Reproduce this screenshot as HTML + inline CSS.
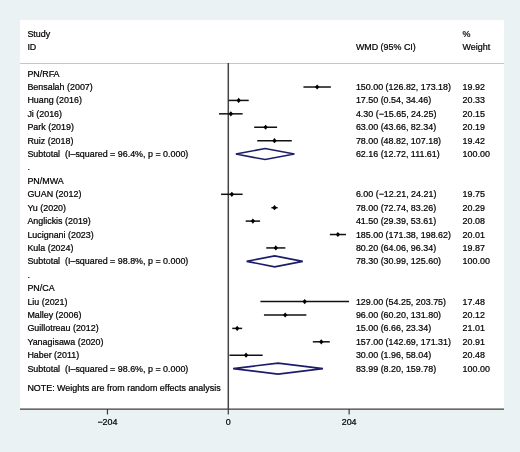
<!DOCTYPE html>
<html><head><meta charset="utf-8"><style>
html,body{margin:0;padding:0;background:#eaf2f3;}
svg{display:block;will-change:transform;}
text{white-space:pre;stroke:#000;stroke-width:0.22px;font-family:"Liberation Sans",sans-serif;font-size:8.92px;fill:#000;}
</style></head><body>
<svg width="520" height="452" viewBox="0 0 520 452">
<rect x="0" y="0" width="520" height="452" fill="#eaf2f3"/>
<rect x="20" y="20" width="484" height="389" fill="#ffffff"/>
<line x1="20" y1="63.5" x2="504" y2="63.5" stroke="#c6c6c6" stroke-width="1"/>
<line x1="228.3" y1="63" x2="228.3" y2="409" stroke="#444" stroke-width="1.5"/>
<line x1="20" y1="409.1" x2="504" y2="409.1" stroke="#3c3c3c" stroke-width="1.3"/>
<line x1="107.45" y1="409" x2="107.45" y2="414.5" stroke="#3c3c3c" stroke-width="1.2"/>
<text x="107.45" y="424.6" text-anchor="middle">−204</text>
<line x1="228.30" y1="409" x2="228.30" y2="414.5" stroke="#3c3c3c" stroke-width="1.2"/>
<text x="228.30" y="424.6" text-anchor="middle">0</text>
<line x1="349.15" y1="409" x2="349.15" y2="414.5" stroke="#3c3c3c" stroke-width="1.2"/>
<text x="349.15" y="424.6" text-anchor="middle">204</text>
<text x="27.4" y="36.7">Study</text>
<text x="27.4" y="49.9">ID</text>
<text x="355.9" y="49.9">WMD (95% CI)</text>
<text x="462.6" y="36.7">%</text>
<text x="462.6" y="49.9">Weight</text>
<text x="27.4" y="76.60">PN/RFA</text>
<text x="27.4" y="90.01">Bensalah (2007)</text>
<line x1="303.43" y1="87.01" x2="330.89" y2="87.01" stroke="#111" stroke-width="1.5"/>
<polygon points="314.96,87.01 317.16,84.41 319.36,87.01 317.16,89.61" fill="#000"/>
<text x="355.9" y="90.01">150.00 (126.82, 173.18)</text>
<text x="462.6" y="90.01">19.92</text>
<text x="27.4" y="103.42">Huang (2016)</text>
<line x1="228.62" y1="100.42" x2="248.71" y2="100.42" stroke="#111" stroke-width="1.5"/>
<polygon points="236.47,100.42 238.67,97.82 240.87,100.42 238.67,103.02" fill="#000"/>
<text x="355.9" y="103.42">17.50 (0.54, 34.46)</text>
<text x="462.6" y="103.42">20.33</text>
<text x="27.4" y="116.83">Ji (2016)</text>
<line x1="219.03" y1="113.83" x2="242.67" y2="113.83" stroke="#111" stroke-width="1.5"/>
<polygon points="228.65,113.83 230.85,111.23 233.05,113.83 230.85,116.43" fill="#000"/>
<text x="355.9" y="116.83">4.30 (−15.65, 24.25)</text>
<text x="462.6" y="116.83">20.15</text>
<text x="27.4" y="130.24">Park (2019)</text>
<line x1="254.16" y1="127.24" x2="277.08" y2="127.24" stroke="#111" stroke-width="1.5"/>
<polygon points="263.42,127.24 265.62,124.64 267.82,127.24 265.62,129.84" fill="#000"/>
<text x="355.9" y="130.24">63.00 (43.66, 82.34)</text>
<text x="462.6" y="130.24">20.19</text>
<text x="27.4" y="143.65">Ruiz (2018)</text>
<line x1="257.22" y1="140.65" x2="291.79" y2="140.65" stroke="#111" stroke-width="1.5"/>
<polygon points="272.31,140.65 274.51,138.05 276.71,140.65 274.51,143.25" fill="#000"/>
<text x="355.9" y="143.65">78.00 (48.82, 107.18)</text>
<text x="462.6" y="143.65">19.42</text>
<text x="27.4" y="157.06">Subtotal  (I–squared = 96.4%, p = 0.000)</text>
<polygon points="235.84,154.06 265.12,148.56 294.42,154.06 265.12,159.56" fill="none" stroke="#1c1c6a" stroke-width="1.6"/>
<text x="355.9" y="157.06">62.16 (12.72, 111.61)</text>
<text x="462.6" y="157.06">100.00</text>
<text x="27.4" y="170.47">.</text>
<text x="27.4" y="183.88">PN/MWA</text>
<text x="27.4" y="197.29">GUAN (2012)</text>
<line x1="221.07" y1="194.29" x2="242.64" y2="194.29" stroke="#111" stroke-width="1.5"/>
<polygon points="229.65,194.29 231.85,191.69 234.05,194.29 231.85,196.89" fill="#000"/>
<text x="355.9" y="197.29">6.00 (−12.21, 24.21)</text>
<text x="462.6" y="197.29">19.75</text>
<text x="27.4" y="210.70">Yu (2020)</text>
<line x1="271.39" y1="207.70" x2="277.62" y2="207.70" stroke="#111" stroke-width="1.5"/>
<polygon points="272.31,207.70 274.51,205.10 276.71,207.70 274.51,210.30" fill="#000"/>
<text x="355.9" y="210.70">78.00 (72.74, 83.26)</text>
<text x="462.6" y="210.70">20.29</text>
<text x="27.4" y="224.11">Anglickis (2019)</text>
<line x1="245.71" y1="221.11" x2="260.06" y2="221.11" stroke="#111" stroke-width="1.5"/>
<polygon points="250.68,221.11 252.88,218.51 255.08,221.11 252.88,223.71" fill="#000"/>
<text x="355.9" y="224.11">41.50 (29.39, 53.61)</text>
<text x="462.6" y="224.11">20.08</text>
<text x="27.4" y="237.52">Lucignani (2023)</text>
<line x1="329.83" y1="234.52" x2="345.96" y2="234.52" stroke="#111" stroke-width="1.5"/>
<polygon points="335.69,234.52 337.89,231.92 340.09,234.52 337.89,237.12" fill="#000"/>
<text x="355.9" y="237.52">185.00 (171.38, 198.62)</text>
<text x="462.6" y="237.52">20.01</text>
<text x="27.4" y="250.93">Kula (2024)</text>
<line x1="266.25" y1="247.93" x2="285.37" y2="247.93" stroke="#111" stroke-width="1.5"/>
<polygon points="273.61,247.93 275.81,245.33 278.01,247.93 275.81,250.53" fill="#000"/>
<text x="355.9" y="250.93">80.20 (64.06, 96.34)</text>
<text x="462.6" y="250.93">19.87</text>
<text x="27.4" y="264.34">Subtotal  (I–squared = 98.8%, p = 0.000)</text>
<polygon points="246.66,261.34 274.68,255.84 302.71,261.34 274.68,266.84" fill="none" stroke="#1c1c6a" stroke-width="1.6"/>
<text x="355.9" y="264.34">78.30 (30.99, 125.60)</text>
<text x="462.6" y="264.34">100.00</text>
<text x="27.4" y="277.75">.</text>
<text x="27.4" y="291.16">PN/CA</text>
<text x="27.4" y="304.57">Liu (2021)</text>
<line x1="260.44" y1="301.57" x2="349.00" y2="301.57" stroke="#111" stroke-width="1.5"/>
<polygon points="302.52,301.57 304.72,298.97 306.92,301.57 304.72,304.17" fill="#000"/>
<text x="355.9" y="304.57">129.00 (54.25, 203.75)</text>
<text x="462.6" y="304.57">17.48</text>
<text x="27.4" y="317.98">Malley (2006)</text>
<line x1="263.96" y1="314.98" x2="306.38" y2="314.98" stroke="#111" stroke-width="1.5"/>
<polygon points="282.97,314.98 285.17,312.38 287.37,314.98 285.17,317.58" fill="#000"/>
<text x="355.9" y="317.98">96.00 (60.20, 131.80)</text>
<text x="462.6" y="317.98">20.12</text>
<text x="27.4" y="331.39">Guillotreau (2012)</text>
<line x1="232.25" y1="328.39" x2="242.13" y2="328.39" stroke="#111" stroke-width="1.5"/>
<polygon points="234.99,328.39 237.19,325.79 239.39,328.39 237.19,330.99" fill="#000"/>
<text x="355.9" y="331.39">15.00 (6.66, 23.34)</text>
<text x="462.6" y="331.39">21.01</text>
<text x="27.4" y="344.80">Yanagisawa (2020)</text>
<line x1="312.83" y1="341.80" x2="329.78" y2="341.80" stroke="#111" stroke-width="1.5"/>
<polygon points="319.11,341.80 321.31,339.20 323.51,341.80 321.31,344.40" fill="#000"/>
<text x="355.9" y="344.80">157.00 (142.69, 171.31)</text>
<text x="462.6" y="344.80">20.91</text>
<text x="27.4" y="358.21">Haber (2011)</text>
<line x1="229.46" y1="355.21" x2="262.68" y2="355.21" stroke="#111" stroke-width="1.5"/>
<polygon points="243.87,355.21 246.07,352.61 248.27,355.21 246.07,357.81" fill="#000"/>
<text x="355.9" y="358.21">30.00 (1.96, 58.04)</text>
<text x="462.6" y="358.21">20.48</text>
<text x="27.4" y="371.62">Subtotal  (I–squared = 98.6%, p = 0.000)</text>
<polygon points="233.16,368.62 278.06,363.12 322.95,368.62 278.06,374.12" fill="none" stroke="#1c1c6a" stroke-width="1.6"/>
<text x="355.9" y="371.62">83.99 (8.20, 159.78)</text>
<text x="462.6" y="371.62">100.00</text>
<text x="27.4" y="391.4">NOTE: Weights are from random effects analysis</text>
</svg>
</body></html>
